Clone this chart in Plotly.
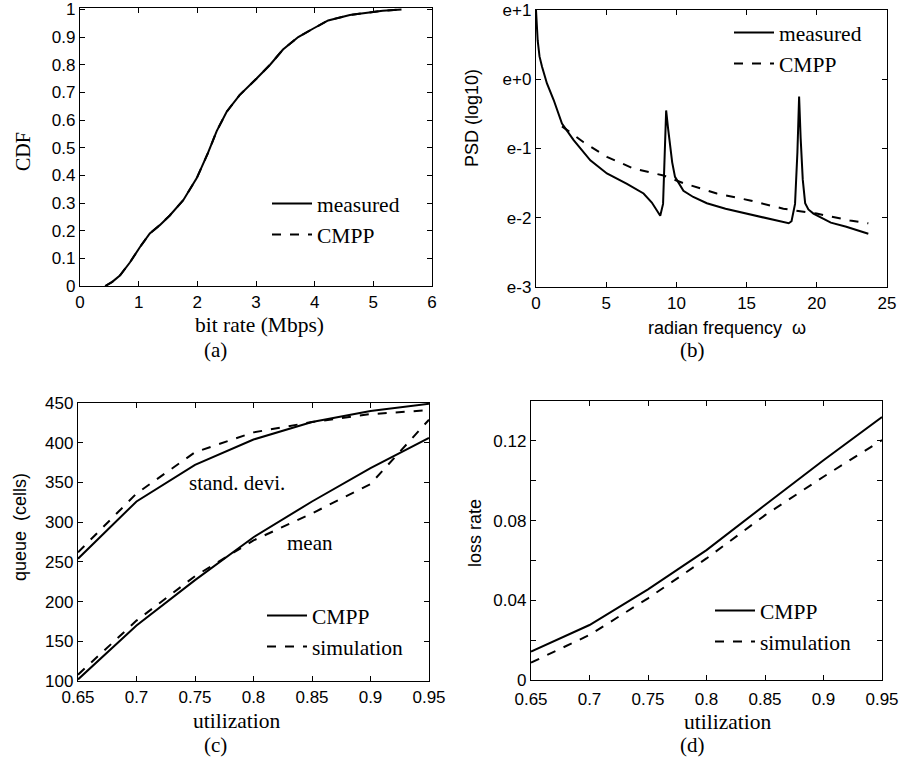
import plotly.graph_objects as go

# ---------------- data ----------------
# (a) CDF of bit rate
cdf_x_measured = [0.43, 0.55, 0.68, 0.85, 1.02, 1.19, 1.36, 1.53, 1.76, 1.99, 2.18, 2.33, 2.50, 2.72, 3.01, 3.24, 3.46, 3.72, 3.97, 4.23, 4.60, 4.94, 5.16, 5.48]
cdf_y_measured = [0.0, 0.015, 0.038, 0.085, 0.14, 0.19, 0.22, 0.255, 0.31, 0.39, 0.48, 0.56, 0.63, 0.69, 0.75, 0.80, 0.855, 0.90, 0.93, 0.96, 0.98, 0.99, 0.995, 1.0]
cdf_x_cmpp = [0.43, 0.55, 0.68, 0.85, 1.02, 1.19, 1.36, 1.53, 1.76, 1.99, 2.18, 2.33, 2.50, 2.72, 3.01, 3.24, 3.46, 3.72, 3.97, 4.23, 4.60, 4.94, 5.16, 5.48]
cdf_y_cmpp = [0.0, 0.015, 0.038, 0.085, 0.14, 0.19, 0.22, 0.255, 0.31, 0.39, 0.48, 0.56, 0.63, 0.69, 0.75, 0.80, 0.855, 0.90, 0.93, 0.96, 0.98, 0.99, 0.995, 1.0]

# (b) PSD (log10)
psd_w_measured = [0.0, 0.05, 0.12, 0.25, 0.43, 0.78, 1.26, 1.85, 2.68, 3.87, 5.05, 6.48, 7.66, 8.25, 8.60, 8.85, 9.05, 9.27, 9.40, 9.55, 9.70, 9.90, 10.5, 11.2, 12.17, 13.5, 15.0, 16.5, 17.62, 18.0, 18.2, 18.45, 18.62, 18.74, 18.85, 19.0, 19.17, 19.4, 19.76, 21.0, 22.1, 23.67]
psd_v_measured = [1.0, 0.78, 0.56, 0.33, 0.18, -0.06, -0.30, -0.64, -0.88, -1.17, -1.36, -1.51, -1.65, -1.78, -1.88, -1.97, -1.80, -0.45, -0.70, -0.98, -1.20, -1.41, -1.61, -1.70, -1.79, -1.87, -1.94, -2.00, -2.06, -2.08, -2.05, -1.80, -1.05, -0.25, -0.85, -1.45, -1.79, -1.88, -1.94, -2.07, -2.13, -2.23]
psd_w_cmpp = [1.85, 3.39, 5.05, 6.95, 9.08, 10.5, 12.88, 15.25, 17.62, 19.99, 22.37, 23.67]
psd_v_cmpp = [-0.68, -0.91, -1.12, -1.29, -1.39, -1.50, -1.65, -1.75, -1.87, -1.94, -2.04, -2.08]
psd_tick_vals = [-3, -2, -1, 0, 1]
psd_tick_text = ["e-3", "e-2", "e-1", "e+0", "e+1"]

# (c) queue vs utilization
util = [0.65, 0.70, 0.75, 0.80, 0.85, 0.90, 0.95]
util_tick_text = ["0.65", "0.7", "0.75", "0.8", "0.85", "0.9", "0.95"]
std_cmpp = [254, 326, 372, 404, 426, 440, 449]
std_sim = [262, 336, 388, 413, 426, 436, 441]
mean_cmpp = [102, 170, 227, 281, 326, 368, 406]
mean_sim = [108, 176, 232, 277, 311, 348, 429]

# (d) loss rate vs utilization
loss_cmpp = [0.0142, 0.0276, 0.0455, 0.0652, 0.0878, 0.1103, 0.132]
loss_sim = [0.0087, 0.0226, 0.041, 0.061, 0.0827, 0.102, 0.1204]
loss_tick_vals = [0, 0.02, 0.04, 0.06, 0.08, 0.10, 0.12, 0.14]
loss_tick_text = ["0", "", "0.04", "", "0.08", "", "0.12", ""]

# ---------------- figure ----------------
W, H = 901, 761
SANS = "Liberation Sans, Arial, sans-serif"
SERIF = "Liberation Serif, Times New Roman, serif"
LW = 2

def px_x(p):
    return p / W

def px_y(p):
    return 1 - p / H

fig = go.Figure()

solid = dict(color="black", width=LW)
dashed = dict(color="black", width=LW, dash="dash")

# (a)
fig.add_trace(go.Scatter(x=cdf_x_measured, y=cdf_y_measured, mode="lines", line=solid,
                         name="measured", xaxis="x", yaxis="y", legend="legend"))
fig.add_trace(go.Scatter(x=cdf_x_cmpp, y=cdf_y_cmpp, mode="lines", line=dashed,
                         name="CMPP", xaxis="x", yaxis="y", legend="legend"))
# (b)
fig.add_trace(go.Scatter(x=psd_w_measured, y=psd_v_measured, mode="lines", line=solid,
                         name="measured", xaxis="x2", yaxis="y2", legend="legend2"))
fig.add_trace(go.Scatter(x=psd_w_cmpp, y=psd_v_cmpp, mode="lines", line=dashed,
                         name="CMPP", xaxis="x2", yaxis="y2", legend="legend2"))
# (c)
fig.add_trace(go.Scatter(x=util, y=std_cmpp, mode="lines", line=solid,
                         name="CMPP", xaxis="x3", yaxis="y3", legend="legend3"))
fig.add_trace(go.Scatter(x=util, y=std_sim, mode="lines", line=dashed,
                         name="simulation", xaxis="x3", yaxis="y3", legend="legend3"))
fig.add_trace(go.Scatter(x=util, y=mean_cmpp, mode="lines", line=solid,
                         name="CMPP", xaxis="x3", yaxis="y3", showlegend=False))
fig.add_trace(go.Scatter(x=util, y=mean_sim, mode="lines", line=dashed,
                         name="simulation", xaxis="x3", yaxis="y3", showlegend=False))
# (d)
fig.add_trace(go.Scatter(x=util, y=loss_cmpp, mode="lines", line=solid,
                         name="CMPP", xaxis="x4", yaxis="y4", legend="legend4"))
fig.add_trace(go.Scatter(x=util, y=loss_sim, mode="lines", line=dashed,
                         name="simulation", xaxis="x4", yaxis="y4", legend="legend4"))

def axis(domain, rng, anchor, **kw):
    d = dict(domain=domain, range=rng, anchor=anchor, showline=True, linecolor="black",
             linewidth=1.3, mirror="ticks", ticks="inside", ticklen=5, tickcolor="black",
             tickwidth=1, showgrid=False, zeroline=False, automargin=False,
             tickfont=dict(family=SANS, size=17, color="black"))
    d.update(kw)
    return d

xa = [px_x(80), px_x(432)]
ya = [px_y(286), px_y(8)]
xb = [px_x(536), px_x(887)]
yb = [px_y(287), px_y(10)]
xc = [px_x(78), px_x(429)]
yc = [px_y(681), px_y(403)]
xd = [px_x(531), px_x(882)]
yd = [px_y(680), px_y(401)]

legend_common = dict(bgcolor="rgba(0,0,0,0)", borderwidth=0,
                     font=dict(family=SERIF, size=21.5, color="black"),
                     xanchor="left", yanchor="top", tracegroupgap=0, itemwidth=40)

fig.update_layout(
    template="none",
    width=W, height=H,
    margin=dict(l=0, r=0, t=0, b=0, pad=0, autoexpand=False),
    paper_bgcolor="white", plot_bgcolor="white",
    xaxis=axis(xa, [0, 6], "y", dtick=1),
    yaxis=axis(ya, [0, 1.005], "x", tickvals=[0, 0.1, 0.2, 0.3, 0.4, 0.5, 0.6, 0.7, 0.8, 0.9, 1.0],
               ticktext=["0", "0.1", "0.2", "0.3", "0.4", "0.5", "0.6", "0.7", "0.8", "0.9", "1"]),
    xaxis2=axis(xb, [0, 25], "y2", dtick=5),
    yaxis2=axis(yb, [-3, 1], "x2", tickvals=psd_tick_vals, ticktext=psd_tick_text),
    xaxis3=axis(xc, [0.65, 0.95], "y3", tickvals=util, ticktext=util_tick_text),
    yaxis3=axis(yc, [100, 450], "x3", dtick=50),
    xaxis4=axis(xd, [0.65, 0.95], "y4", tickvals=util, ticktext=util_tick_text,
                ticklabelstandoff=3),
    yaxis4=axis(yd, [0, 0.14], "x4", tickvals=loss_tick_vals, ticktext=loss_tick_text),
    legend=dict(x=px_x(267), y=px_y(183), **legend_common),
    legend2=dict(x=px_x(729), y=px_y(12), **legend_common),
    legend3=dict(x=px_x(262), y=px_y(595), **legend_common),
    legend4=dict(x=px_x(710), y=px_y(590), **legend_common),
    showlegend=True,
)

def ann(text, x, y, family, size, angle=0):
    fig.add_annotation(text=text, x=px_x(x), y=px_y(y), xref="paper", yref="paper",
                       showarrow=False, textangle=angle, xanchor="center", yanchor="middle",
                       borderpad=0,
                       font=dict(family=family, size=size, color="black"))

# axis titles
ann("CDF", 23, 152, SERIF, 20, -90)
ann("bit rate (Mbps)", 259, 325, SERIF, 21.5)
ann("PSD (log10)", 472, 118, SANS, 18, -90)
ann("radian frequency  ω", 727, 328, SANS, 18)
ann("queue  (cells)", 20, 527, SANS, 18, -90)
ann("utilization", 237, 721, SERIF, 21.5)
ann("loss rate", 475, 533, SANS, 18, -90)
ann("utilization", 727, 722, SERIF, 21.5)

# in-plot labels
ann("stand. devi.", 237, 483, SERIF, 21)
ann("mean", 310, 543, SERIF, 21)

# captions
ann("(a)", 215, 350, SERIF, 21)
ann("(b)", 692, 350, SERIF, 21)
ann("(c)", 215, 745, SERIF, 21)
ann("(d)", 692, 745, SERIF, 21)

fig.write_html("out.html", config={"displayModeBar": False},
               post_script="document.body.style.margin='0px';document.body.style.overflow='hidden';")
